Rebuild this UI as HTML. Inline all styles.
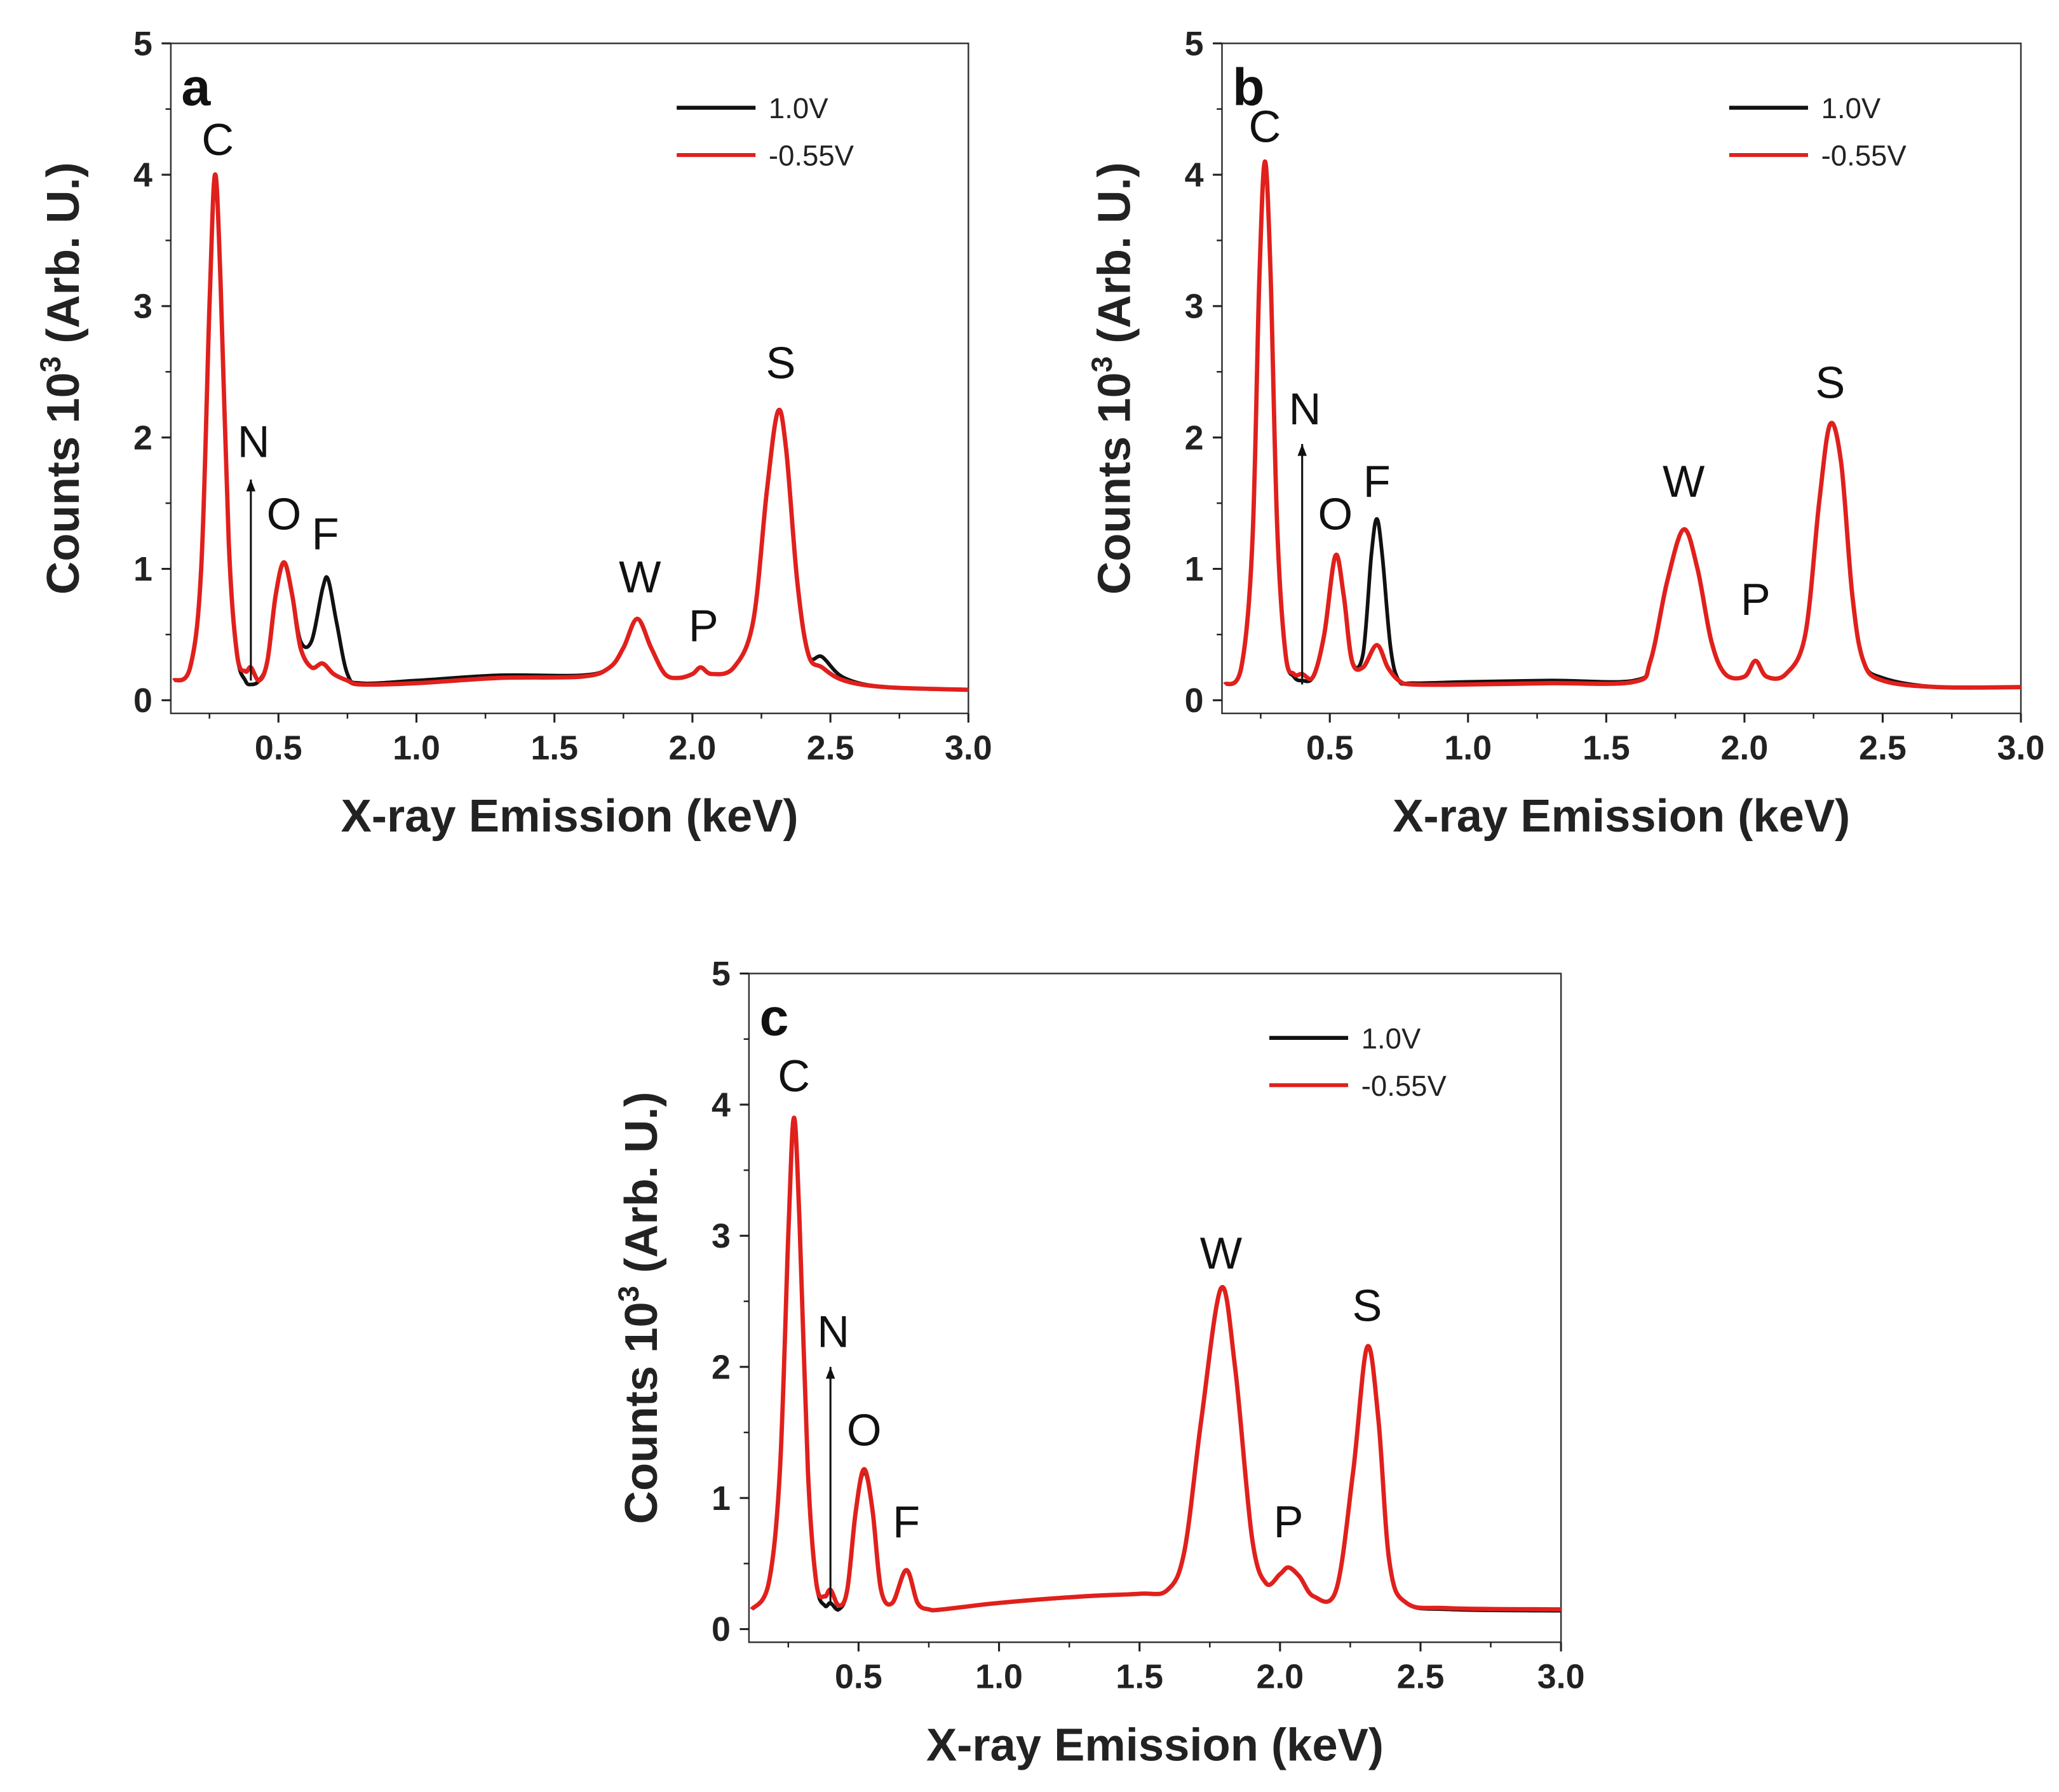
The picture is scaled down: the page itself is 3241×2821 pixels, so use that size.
<!DOCTYPE html>
<html><head><meta charset="utf-8"><style>
html,body{margin:0;padding:0;background:#fff}
svg{display:block}
text{font-family:"Liberation Sans",Arial,sans-serif}
</style></head><body>
<svg id="fig" width="3241" height="2821" viewBox="0 0 1567 1364" preserveAspectRatio="none" xmlns="http://www.w3.org/2000/svg"></svg>
<script>
// ---- shared axis data ----
const xTicks = [0.5, 1.0, 1.5, 2.0, 2.5, 3.0];
const xTickLabels = ["0.5", "1.0", "1.5", "2.0", "2.5", "3.0"];
const yTicks = [0, 1, 2, 3, 4, 5];
const yTickLabels = ["0", "1", "2", "3", "4", "5"];
const seriesNames = ["1.0V", "-0.55V"];

// ---- panel a ----
const aRedX = [0.12,0.18,0.22,0.25,0.27,0.29,0.32,0.35,0.38,0.40,0.43,0.46,0.49,0.52,0.55,0.58,0.62,0.66,0.70,0.75,0.80,1.0,1.3,1.6,1.7,1.75,1.8,1.85,1.9,1.95,2.0,2.03,2.07,2.15,2.22,2.27,2.31,2.34,2.38,2.42,2.47,2.55,2.7,3.0];
const aRedY = [0.15,0.25,1.0,3.0,4.0,3.2,1.2,0.35,0.22,0.25,0.15,0.3,0.8,1.05,0.8,0.4,0.25,0.28,0.2,0.15,0.12,0.13,0.17,0.18,0.25,0.4,0.62,0.4,0.2,0.17,0.2,0.25,0.2,0.25,0.6,1.6,2.2,1.9,0.9,0.35,0.25,0.15,0.1,0.08];
const aBlackX = [0.12,0.18,0.22,0.25,0.27,0.29,0.32,0.35,0.38,0.40,0.43,0.46,0.49,0.52,0.55,0.58,0.62,0.66,0.68,0.71,0.75,0.80,1.0,1.3,1.6,1.7,1.75,1.8,1.85,1.9,1.95,2.0,2.03,2.07,2.15,2.22,2.27,2.31,2.34,2.38,2.42,2.47,2.55,2.7,3.0];
const aBlackY = [0.15,0.25,1.0,3.0,4.0,3.2,1.2,0.35,0.15,0.12,0.15,0.3,0.8,1.05,0.8,0.45,0.45,0.85,0.92,0.6,0.2,0.13,0.15,0.19,0.19,0.25,0.4,0.62,0.4,0.2,0.17,0.2,0.25,0.2,0.25,0.6,1.6,2.2,1.9,0.9,0.35,0.33,0.17,0.1,0.08];

// ---- panel b ----
const bRedX = [0.12,0.18,0.22,0.245,0.265,0.285,0.31,0.34,0.37,0.40,0.44,0.48,0.52,0.55,0.58,0.62,0.67,0.71,0.75,0.8,1.0,1.3,1.6,1.66,1.72,1.78,1.83,1.88,1.93,2.0,2.04,2.08,2.15,2.22,2.27,2.31,2.35,2.39,2.43,2.5,2.7,3.0];
const bRedY = [0.12,0.25,1.2,3.2,4.1,3.3,1.3,0.35,0.2,0.2,0.18,0.5,1.1,0.8,0.3,0.25,0.42,0.25,0.15,0.12,0.12,0.13,0.14,0.3,0.9,1.3,1.0,0.45,0.2,0.18,0.3,0.18,0.2,0.5,1.5,2.1,1.8,0.8,0.3,0.15,0.1,0.1];
const bBlackX = [0.12,0.18,0.22,0.245,0.265,0.285,0.31,0.34,0.37,0.40,0.44,0.48,0.52,0.55,0.58,0.62,0.65,0.67,0.69,0.72,0.75,0.8,1.0,1.3,1.6,1.66,1.72,1.78,1.83,1.88,1.93,2.0,2.04,2.08,2.15,2.22,2.27,2.31,2.35,2.39,2.43,2.5,2.7,3.0];
const bBlackY = [0.12,0.25,1.2,3.2,4.1,3.3,1.3,0.35,0.18,0.15,0.18,0.5,1.1,0.8,0.3,0.35,1.1,1.38,1.1,0.4,0.15,0.13,0.14,0.15,0.15,0.3,0.9,1.3,1.0,0.45,0.2,0.18,0.3,0.18,0.2,0.5,1.5,2.1,1.8,0.8,0.3,0.17,0.1,0.1];

// ---- panel c ----
const cRedX = [0.12,0.18,0.22,0.25,0.27,0.29,0.32,0.35,0.38,0.40,0.43,0.46,0.49,0.52,0.55,0.58,0.62,0.67,0.71,0.75,0.8,1.0,1.3,1.5,1.6,1.66,1.72,1.79,1.84,1.9,1.95,2.0,2.03,2.07,2.12,2.2,2.26,2.31,2.35,2.39,2.45,2.6,3.0];
const cRedY = [0.15,0.35,1.2,3.0,3.9,3.1,1.2,0.35,0.25,0.3,0.18,0.3,0.9,1.22,0.9,0.3,0.2,0.45,0.2,0.15,0.15,0.2,0.25,0.27,0.3,0.6,1.6,2.6,2.0,0.7,0.35,0.42,0.47,0.4,0.25,0.3,1.2,2.15,1.6,0.5,0.2,0.16,0.15];
const cBlackX = [0.12,0.18,0.22,0.25,0.27,0.29,0.32,0.35,0.38,0.40,0.43,0.46,0.49,0.52,0.55,0.58,0.62,0.67,0.71,0.75,0.8,1.0,1.3,1.5,1.6,1.66,1.72,1.79,1.84,1.9,1.95,2.0,2.03,2.07,2.12,2.2,2.26,2.31,2.35,2.39,2.45,2.6,3.0];
const cBlackY = [0.15,0.35,1.2,3.0,3.9,3.1,1.2,0.35,0.18,0.2,0.15,0.3,0.9,1.2,0.9,0.3,0.2,0.45,0.2,0.15,0.15,0.2,0.25,0.27,0.3,0.6,1.6,2.6,2.0,0.7,0.35,0.42,0.47,0.4,0.25,0.3,1.2,2.15,1.6,0.5,0.2,0.15,0.14];

const NS = "http://www.w3.org/2000/svg";
const svg = document.getElementById("fig");
function mk(tag, attrs, parent, txt) {
  const e = document.createElementNS(NS, tag);
  for (const k in attrs) e.setAttribute(k, attrs[k]);
  if (txt !== undefined) e.textContent = txt;
  (parent || svg).appendChild(e);
  return e;
}
function smoothPath(p) {
  let d = "M" + p[0][0].toFixed(1) + "," + p[0][1].toFixed(1);
  for (let i = 0; i < p.length - 1; i++) {
    const p0 = p[Math.max(0, i - 1)], p1 = p[i], p2 = p[i + 1], p3 = p[Math.min(p.length - 1, i + 2)];
    const c1x = p1[0] + (p2[0] - p0[0]) / 6, c1y = p1[1] + (p2[1] - p0[1]) / 6;
    const c2x = p2[0] - (p3[0] - p1[0]) / 6, c2y = p2[1] - (p3[1] - p1[1]) / 6;
    d += " C" + c1x.toFixed(1) + "," + c1y.toFixed(1) + " " + c2x.toFixed(1) + "," + c2y.toFixed(1) + " " + p2[0].toFixed(1) + "," + p2[1].toFixed(1);
  }
  return d;
}

function panel(cfg) {
  const g = mk("g", {});
  
  
  const xMin = 0.11, xMax = 3.0, yMin = -0.1, yMax = 5;
  const X = v => cfg.L + (v - xMin) / (xMax - xMin) * (cfg.R - cfg.L);
  const Y = v => cfg.B - (v - yMin) / (yMax - yMin) * (cfg.B - cfg.T);
  const fr = mk("rect", {x: cfg.L, y: cfg.T, width: cfg.R - cfg.L, height: cfg.B - cfg.T, fill: "none", stroke: "#333", "stroke-width": 1.2}, g);
  
  
  xTicks.forEach((t, i) => {
    mk("line", {x1: X(t), x2: X(t), y1: cfg.B, y2: cfg.B + 7, stroke: "#222", "stroke-width": 1.5}, g);
    mk("line", {x1: X(t - 0.25), x2: X(t - 0.25), y1: cfg.B, y2: cfg.B + 4, stroke: "#222", "stroke-width": 1.2}, g);
    const tl = mk("text", {x: X(t), y: cfg.B + 35, "font-size": 26, "font-weight": "bold", "text-anchor": "middle", fill: "#222"}, g, xTickLabels[i]);
    
    
  });
  yTicks.forEach((t, i) => {
    mk("line", {x1: cfg.L - 7, x2: cfg.L, y1: Y(t), y2: Y(t), stroke: "#222", "stroke-width": 1.5}, g);
    if (t < 5) mk("line", {x1: cfg.L - 4, x2: cfg.L, y1: Y(t + 0.5), y2: Y(t + 0.5), stroke: "#222", "stroke-width": 1.2}, g);
    const tl = mk("text", {x: cfg.L - 14, y: Y(t) + 9, "font-size": 26, "font-weight": "bold", "text-anchor": "end", fill: "#222"}, g, yTickLabels[i]);
    
    
  });
  const xt = mk("text", {x: (cfg.L + cfg.R) / 2, y: cfg.B + 90, "font-size": 35, "font-weight": "bold", "text-anchor": "middle", fill: "#222"}, g, "X-ray Emission (keV)");
  
  
  const yt = mk("text", {transform: `translate(${cfg.L - 70},${(cfg.T + cfg.B) / 2}) rotate(-90)`, "font-size": 35, "font-weight": "bold", "text-anchor": "middle", fill: "#222"}, g);
  
  
  mk("tspan", {}, yt, "Counts 10");
  mk("tspan", {dy: -14, "font-size": 22}, yt, "3");
  mk("tspan", {dy: 14}, yt, " (Arb. U.)");
  const pl = mk("text", {x: cfg.L + 8, y: cfg.T + 47, "font-size": 40, "font-weight": "bold", fill: "#111"}, g, cfg.id);
  
  
  const series = [[cfg.bx, cfg.by, "#111"], [cfg.rx, cfg.ry, "#e0201c"]];
  series.forEach((s, k) => {
    const pts = s[0].map((x, i) => [X(x), Y(s[1][i])]);
    const p = mk("path", {d: smoothPath(pts), fill: "none", stroke: s[2], "stroke-width": k ? 3.3 : 2.8, "stroke-linejoin": "round"}, g);
    
    
  });
  const lx = cfg.R - 222, ly = cfg.T + 49;
  seriesNames.forEach((n, k) => {
    const le = mk("g", {}, g);
    
    
    mk("line", {x1: lx, x2: lx + 60, y1: ly + k * 36, y2: ly + k * 36, stroke: k ? "#e0201c" : "#111", "stroke-width": 3}, le);
    mk("text", {x: lx + 70, y: ly + k * 36 + 8, "font-size": 22, fill: "#222"}, le, n);
  });
  cfg.labels.forEach(l => {
    const t = mk("text", {x: X(l[1]), y: Y(l[2]) - 10, "font-size": 34, "text-anchor": "middle", fill: "#111"}, g, l[0]);
    
    
  });
  const ax = X(cfg.nx);
  const ar = mk("g", {}, g);
  
  
  mk("line", {x1: ax, x2: ax, y1: Y(cfg.nLow), y2: Y(cfg.nHigh), stroke: "#111", "stroke-width": 1.5}, ar);
  mk("polygon", {points: `${ax - 3.5},${Y(cfg.nHigh) + 9} ${ax + 3.5},${Y(cfg.nHigh) + 9} ${ax},${Y(cfg.nHigh)}`, fill: "#111"}, ar);
}

panel({id: "a", L: 130, R: 737, T: 33, B: 543, rx: aRedX, ry: aRedY, bx: aBlackX, by: aBlackY,
  nx: 0.40, nLow: 0.15, nHigh: 1.68,
  labels: [["C", 0.28, 4.05], ["N", 0.41, 1.75], ["O", 0.52, 1.2], ["F", 0.67, 1.05], ["W", 1.81, 0.72], ["P", 2.04, 0.35], ["S", 2.32, 2.35]]});
panel({id: "b", L: 930, R: 1538, T: 33, B: 543, rx: bRedX, ry: bRedY, bx: bBlackX, by: bBlackY,
  nx: 0.40, nLow: 0.12, nHigh: 1.95,
  labels: [["C", 0.265, 4.15], ["N", 0.41, 2.0], ["O", 0.52, 1.2], ["F", 0.67, 1.45], ["W", 1.78, 1.45], ["P", 2.04, 0.55], ["S", 2.31, 2.2]]});
panel({id: "c", L: 570, R: 1188, T: 741, B: 1250, rx: cRedX, ry: cRedY, bx: cBlackX, by: cBlackY,
  nx: 0.40, nLow: 0.18, nHigh: 2.0,
  labels: [["C", 0.27, 4.0], ["N", 0.41, 2.05], ["O", 0.52, 1.3], ["F", 0.67, 0.6], ["W", 1.79, 2.65], ["P", 2.03, 0.6], ["S", 2.31, 2.25]]});
</script>
</body></html>
